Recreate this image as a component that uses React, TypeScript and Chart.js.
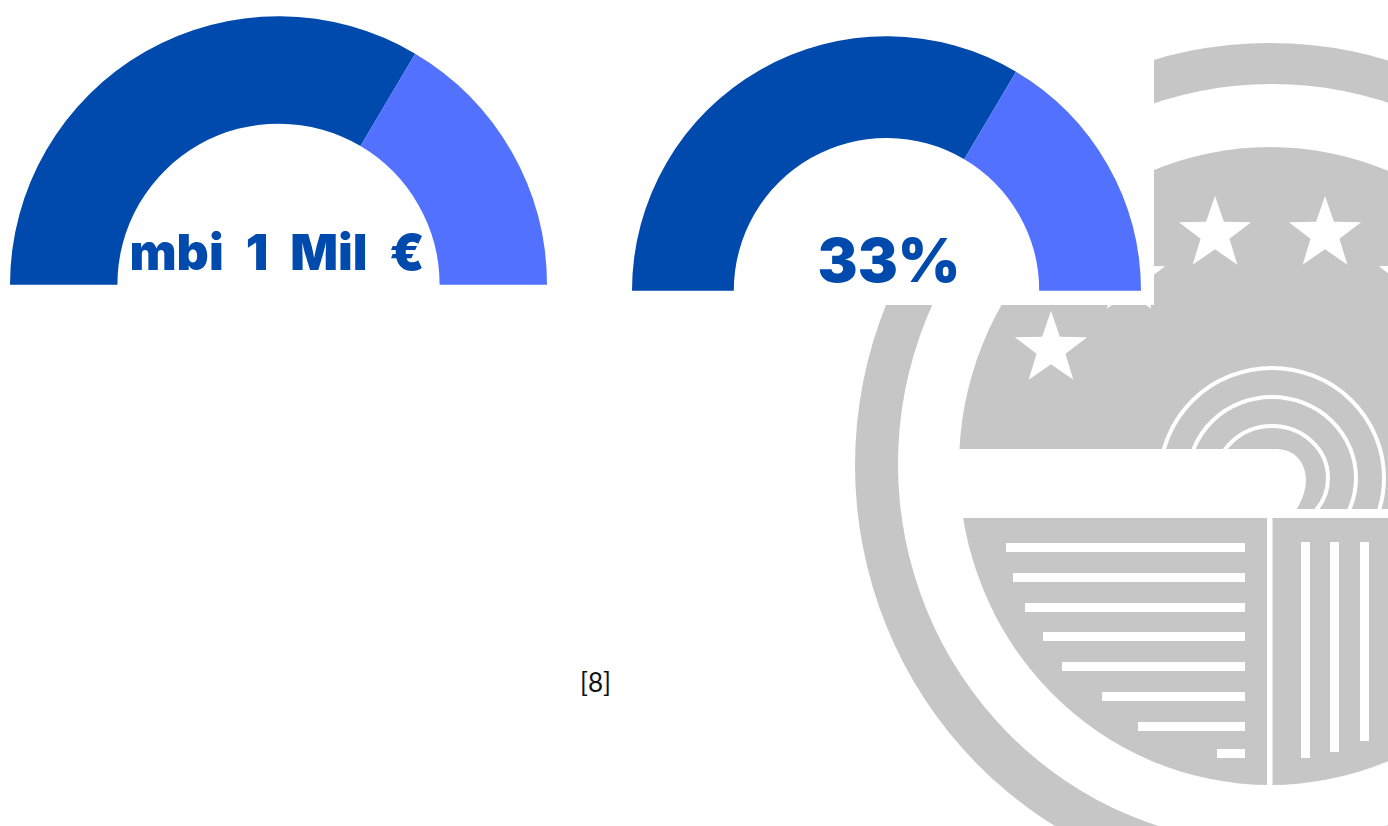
import React, { useEffect, useRef } from "react";
import { Chart, registerables } from "chart.js";

Chart.register(...registerables);

const gaugeCategories = ["Achieved", "Remaining"];
const firstGaugeValues = [67, 33];
const secondGaugeValues = [67, 33];
const firstGaugeLabel = "mbi 1 Mil €";
const secondGaugeLabel = "33%";
const footnote = "[8]";

const DARK = "#004AAD";
const LIGHT = "#5271FF";
const GREY = "#C6C6C6";

function starPoints(cx: number, cy: number, r: number) {
  const pts: string[] = [];
  for (let i = 0; i < 10; i++) {
    const rad = i % 2 === 0 ? r : r * 0.4;
    const a = -Math.PI / 2 + (i * Math.PI) / 5;
    pts.push(`${cx + rad * Math.cos(a)},${cy + rad * Math.sin(a)}`);
  }
  return pts.join(" ");
}

const stars = [
  [1215, 234],
  [1325, 234],
  [1051, 349],
  [1129, 278],
  [1415, 278],
];
const hStripes = [
  [1006, 543],
  [1013, 573],
  [1025, 603],
  [1043, 632],
  [1062, 662],
  [1102, 692],
  [1138, 722],
  [1217, 749],
];
const vStripes = [
  [1301, 542, 758],
  [1330, 542, 752],
  [1360, 542, 741],
];
const arches = [
  [112, 110],
  [84, 81],
  [56, 52],
];

function Watermark() {
  return (
    <svg
      width={1388}
      height={826}
      style={{ position: "absolute", left: 0, top: 0 }}
    >
      <defs>
        <clipPath id="archClip">
          <rect x={1100} y={300} width={300} height={209} />
        </clipPath>
      </defs>
      <rect x={0} y={0} width={1388} height={826} fill="#FFFFFF" />
      <ellipse cx={1270} cy={465} rx={415} ry={422} fill={GREY} />
      <ellipse cx={1272} cy={464} rx={374} ry={380} fill="#FFFFFF" />
      <ellipse cx={1270} cy={466} rx={311} ry={319} fill={GREY} />
      {stars.map(([x, y], i) => (
        <polygon key={i} points={starPoints(x, y, 38)} fill="#FFFFFF" />
      ))}
      <g clipPath="url(#archClip)">
        {arches.map(([rx, ry], i) => (
          <ellipse
            key={i}
            cx={1272}
            cy={478}
            rx={rx}
            ry={ry}
            fill="none"
            stroke="#FFFFFF"
            strokeWidth={4}
          />
        ))}
      </g>
      <path
        d="M 945 449 L 1276 449 C 1296 449 1306 464 1306 480 C 1306 490 1302 500 1297 509 L 1297 518 L 945 518 Z"
        fill="#FFFFFF"
      />
      <rect x={1290} y={509} width={110} height={9} fill="#FFFFFF" />
      <rect x={1267} y={518} width={5.5} height={280} fill="#FFFFFF" />
      {hStripes.map(([x, y], i) => (
        <rect key={i} x={x} y={y} width={1245 - x} height={9} fill="#FFFFFF" />
      ))}
      {vStripes.map(([x, y0, y1], i) => (
        <rect key={i} x={x} y={y0} width={9} height={y1 - y0} fill="#FFFFFF" />
      ))}
      <rect x={0} y={0} width={1154} height={305} fill="#FFFFFF" />
    </svg>
  );
}

type GaugeProps = {
  left: number;
  top: number;
  width: number;
  height: number;
  values: number[];
  label: string;
  fontSize: number;
  labelX: number;
  labelY: number;
  wordGap: number;
};

function Gauge({ left, top, width, height, values, label, fontSize, labelX, labelY, wordGap }: GaugeProps) {
  const ref = useRef<HTMLCanvasElement | null>(null);
  useEffect(() => {
    if (!ref.current) return;
    const chart = new Chart(ref.current, {
      type: "doughnut",
      data: {
        labels: gaugeCategories,
        datasets: [
          {
            data: values,
            backgroundColor: [DARK, LIGHT],
            borderWidth: 0,
          },
        ],
      },
      options: {
        animation: false,
        responsive: false,
        rotation: -90,
        circumference: 180,
        cutout: "60%",
        layout: { padding: 0 },
        plugins: { legend: { display: false }, tooltip: { enabled: false } },
      },
      plugins: [
        {
          id: "gaugeLabel",
          beforeDatasetsDraw(c: Chart) {
            const ctx = c.ctx as any;
            ctx.save();
            ctx.fillStyle = DARK;
            ctx.font = `900 ${fontSize}px Inter, "Noto Sans", sans-serif`;
            ctx.wordSpacing = `${wordGap}px`;
            ctx.textAlign = "center";
            ctx.textBaseline = "alphabetic";
            ctx.fillText(label, labelX, labelY);
            ctx.restore();
          },
        },
      ],
    } as any);
    return () => chart.destroy();
  }, []);
  return (
    <canvas
      ref={ref}
      width={width}
      height={height}
      style={{ position: "absolute", left, top, width, height }}
    />
  );
}

export default function App() {
  return (
    <div
      style={{
        position: "absolute",
        left: 0,
        top: 0,
        width: 1388,
        height: 826,
        overflow: "hidden",
        background: "#FFFFFF",
      }}
    >
      <Watermark />
      <Gauge
        left={10}
        top={16}
        width={537}
        height={269}
        values={firstGaugeValues}
        label={firstGaugeLabel}
        fontSize={50}
        labelX={267}
        labelY={254}
        wordGap={12}
      />
      <Gauge
        left={632}
        top={36}
        width={509}
        height={255}
        values={secondGaugeValues}
        label={secondGaugeLabel}
        fontSize={60}
        labelX={257}
        labelY={246}
        wordGap={0}
      />
      <div
        style={{
          position: "absolute",
          left: 580,
          top: 666,
          fontFamily: "Lato, sans-serif",
          fontSize: 26,
          lineHeight: "32px",
          color: "#111",
        }}
      >
        {footnote}
      </div>
    </div>
  );
}
